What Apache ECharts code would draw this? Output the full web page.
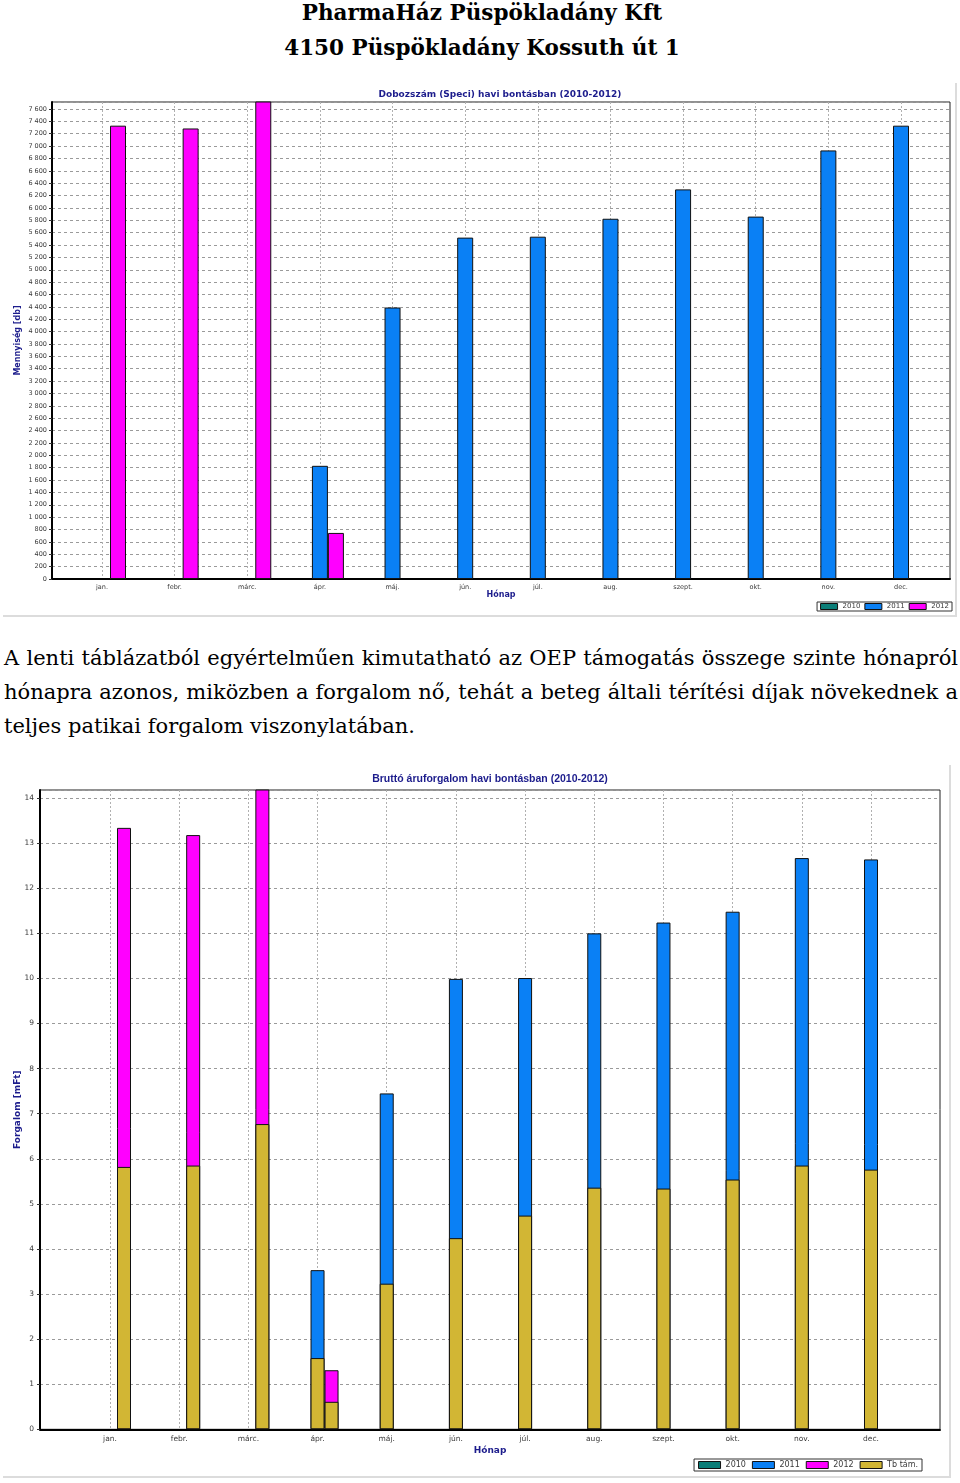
<!DOCTYPE html>
<html><head><meta charset="utf-8">
<script src="https://cdn.jsdelivr.net/npm/echarts@6/dist/echarts.min.js"></script>
<style>
html,body{margin:0;padding:0;background:#fff;width:960px;height:1483px;overflow:hidden;}
.h{position:absolute;left:0;width:964px;text-align:center;font-family:"DejaVu Serif",serif;font-weight:bold;font-size:21.5px;color:#000;line-height:30px;}
.p{position:absolute;left:4px;width:954px;font-family:"DejaVu Serif",serif;font-size:21px;line-height:34px;color:#000;}
.j{text-align:justify;text-align-last:justify;}
.frame{position:absolute;border-right:2px solid #dcdcdc;border-bottom:2px solid #dcdcdc;}
#c1{position:absolute;left:0;top:80px;width:960px;height:540px;}
#c2{position:absolute;left:0;top:760px;width:960px;height:723px;}
</style></head>
<body>
<div class="h" style="top:-2px">PharmaHáz Püspökladány Kft</div>
<div class="h" style="top:33px">4150 Püspökladány Kossuth út 1</div>
<div class="frame" style="left:3px;top:83px;width:952px;height:532px"></div>
<div id="c1"></div>
<div class="p j" style="top:641px">A lenti táblázatból egyértelműen kimutatható az OEP támogatás összege szinte hónapról</div>
<div class="p j" style="top:675px">hónapra azonos, miközben a forgalom nő, tehát a beteg általi térítési díjak növekednek a</div>
<div class="p" style="top:709px">teljes patikai forgalom viszonylatában.</div>
<div class="frame" style="left:3px;top:765px;width:946px;height:711px"></div>
<div id="c2"></div>
<script>
// ---- data ----
const months = ['jan.','febr.','márc.','ápr.','máj.','jún.','júl.','aug.','szept.','okt.','nov.','dec.'];
const years = ['2010','2011','2012'];
const tbName = 'Tb tám.';
// Chart 1: Dobozszám (Speci) [db]
const box2010 = [null,null,null,null,null,null,null,null,null,null,null,null];
const box2011 = [null,null,null,1830,4390,5520,5535,5825,6300,5860,6930,7330];
const box2012 = [7330,7285,7850,745,null,null,null,null,null,null,null,null];
// Chart 2: Bruttó áruforgalom [mFt]
const rev2010 = [null,null,null,null,null,null,null,null,null,null,null,null];
const rev2011 = [null,null,null,3.53,7.45,9.99,10.01,11.0,11.24,11.48,12.67,12.64];
const rev2012 = [13.34,13.18,14.6,1.31,null,null,null,null,null,null,null,null];
const tb2010 = [null,null,null,null,null,null,null,null,null,null,null,null];
const tb2011 = [null,null,null,1.58,3.23,4.24,4.74,5.36,5.34,5.54,5.85,5.76];
const tb2012 = [5.82,5.85,6.77,0.61,null,null,null,null,null,null,null,null];

const colors = {'2010':'#0b7e78','2011':'#0a80f5','2012':'#ff00ff', tb:'#d2b634'};
const navy = '#1c1c8c';
const lbl = '#3a3a3a';

function thousands(v){
  if (v >= 1000) { const r = v % 1000; return Math.floor(v/1000) + ' ' + String(r).padStart(3,'0'); }
  return String(v);
}

function makeOption(cfg){
  const yearSeries = years.map((y,i)=>({
    name:y, type:'bar', xAxisIndex:1, yAxisIndex:1, data:cfg.yearData[i],
    barWidth:cfg.barWidth, barGap:'0%',
    itemStyle:{color:colors[y], borderColor:'#111', borderWidth:1},
    emphasis:{disabled:true}
  }));
  const series = yearSeries.slice();
  if (cfg.tbData) {
    cfg.tbData.forEach(d=>series.push({
      name:tbName, type:'bar', xAxisIndex:2, yAxisIndex:1, data:d,
      barWidth:cfg.barWidth, barGap:'0%',
      itemStyle:{color:colors.tb, borderColor:'#111', borderWidth:1},
      emphasis:{disabled:true}
    }));
  }
  const catAxis = (idx, show) => ({
    gridIndex:1, type:'category', data:months, boundaryGap:false, show:show,
    axisLine:{show:false}, axisTick:{show:false},
    axisLabel:{interval:0, fontSize:cfg.xFont, color:lbl, margin:cfg.xMargin, fontFamily:'DejaVu Sans'},
    splitLine:{show:true, interval:0, lineStyle:{type:[2,2], color:'#b0b0b0', width:1}}
  });
  const xAxes = [
    {gridIndex:0, type:'value', min:0, max:1,
     axisLine:{show:true, onZero:false, lineStyle:{color:'#000', width:2}},
     axisTick:{show:false}, axisLabel:{show:false}, splitLine:{show:false},
     name:'Hónap', nameLocation:'middle', nameGap:cfg.xNameGap, nameMoveOverlap:false,
     nameTextStyle:{color:navy, fontWeight:'bold', fontSize:cfg.nameFont, fontFamily:'DejaVu Sans'}},
    catAxis(1,true)
  ];
  if (cfg.tbData) xAxes.push(catAxis(2,false));
  return {
    animation:false,
    title:{text:cfg.title, left:cfg.titleX, top:cfg.titleTop, textAlign:'center', padding:0,
      textStyle:{color:navy, fontWeight:'bold', fontSize:cfg.titleFont, fontFamily:cfg.titleFamily}},
    legend:{data:cfg.legendData, right:cfg.legendRight, top:cfg.legendTop, icon:'rect',
      itemWidth:cfg.legItemW, itemHeight:cfg.legItemH, itemGap:cfg.legGap, selectedMode:false,
      borderColor:'#333', borderWidth:1, padding:cfg.legPad, backgroundColor:'#fff',
      itemStyle:{borderColor:'#111', borderWidth:1},
      textStyle:{fontSize:cfg.legFont, color:lbl, fontFamily:'DejaVu Sans'}},
    grid:[
      {left:cfg.g0.left, right:cfg.g0.right, top:cfg.top, bottom:cfg.bottom, show:true, borderColor:'#222', borderWidth:1},
      {left:cfg.g1.left, right:cfg.g1.right, top:cfg.top, bottom:cfg.bottom}
    ],
    xAxis:xAxes,
    yAxis:[
      {gridIndex:0, type:'value', min:0, max:cfg.yMax, interval:cfg.yInterval,
       axisLine:{show:true, lineStyle:{color:'#000', width:2}},
       axisTick:{show:true, length:3, lineStyle:{color:'#333'}},
       axisLabel:{fontSize:cfg.yFont, color:lbl, margin:cfg.yMargin, showMaxLabel:false, formatter:cfg.yFmt, fontFamily:'DejaVu Sans'},
       splitLine:{show:true, lineStyle:{type:[3,3], color:'#9a9a9a', width:1}},
       name:cfg.yName, nameLocation:'middle', nameGap:cfg.yNameGap, nameMoveOverlap:false,
       nameTextStyle:{color:navy, fontWeight:'bold', fontSize:cfg.nameFont, fontFamily:'DejaVu Sans'}},
      {gridIndex:1, type:'value', min:0, max:cfg.yMax, show:false, splitLine:{show:false}}
    ],
    series:series
  };
}

const c1 = echarts.init(document.getElementById('c1'), null, {renderer:'canvas'});
c1.setOption(makeOption({
  title:'Dobozszám (Speci) havi bontásban (2010-2012)', titleX:500, titleTop:10, titleFont:9, titleFamily:'DejaVu Sans',
  legendData:years, legendRight:8, legendTop:522, legItemW:17, legItemH:6, legGap:4, legPad:[1,3], legFont:7,
  g0:{left:52, right:10}, g1:{left:102, right:59}, top:22, bottom:41,
  xFont:6.5, xMargin:5, xNameGap:12, nameFont:8,
  yMax:7713, yInterval:200, yFont:6.5, yMargin:5, yFmt:thousands,
  yName:'Mennyiség [db]', yNameGap:30,
  barWidth:16,
  yearData:[box2010, box2011, box2012]
}));

const c2 = echarts.init(document.getElementById('c2'), null, {renderer:'canvas'});
c2.setOption(makeOption({
  title:'Bruttó áruforgalom havi bontásban (2010-2012)', titleX:490, titleTop:14, titleFont:10.5, titleFamily:'Liberation Sans',
  legendData:years.concat([tbName]), legendRight:38, legendTop:699, legItemW:22, legItemH:7, legGap:6, legPad:[2,4], legFont:8,
  g0:{left:40, right:20}, g1:{left:110, right:89}, top:30, bottom:53.7,
  xFont:7.5, xMargin:6, xNameGap:17, nameFont:9,
  yMax:14.18, yInterval:1, yFont:7.5, yMargin:6, yFmt:(v)=>String(v),
  yName:'Forgalom [mFt]', yNameGap:17.5,
  barWidth:14,
  yearData:[rev2010, rev2011, rev2012],
  tbData:[tb2010, tb2011, tb2012]
}));
</script>
</body></html>
